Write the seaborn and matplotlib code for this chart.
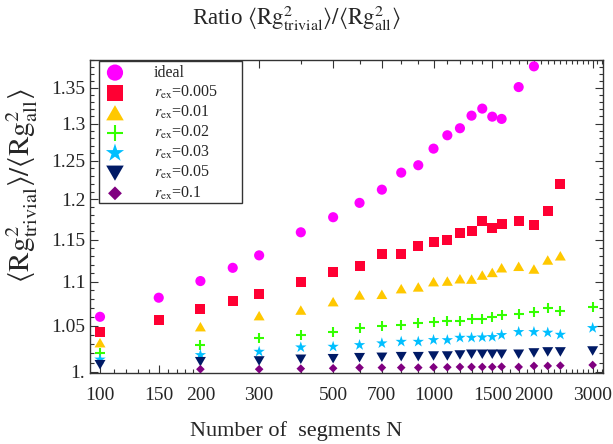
import matplotlib
matplotlib.use("Agg")
import matplotlib.pyplot as plt
import seaborn as sns
import pandas as pd
from matplotlib.path import Path
from matplotlib.patches import Rectangle
from matplotlib.ticker import NullFormatter

# ---- data -------------------------------------------------------------
N_ideal = [100, 150, 200, 250, 300, 400, 500, 600, 700, 800, 900, 1000,
           1100, 1200, 1300, 1400, 1500, 1600, 1800, 2000]
ratio_ideal = [1.0600, 1.0816, 1.1008, 1.1163, 1.1311, 1.1590, 1.1776, 1.1956,
               1.2124, 1.2344, 1.2441, 1.2661, 1.2841, 1.2937, 1.3110, 1.3208,
               1.3096, 1.3065, 1.3512, 1.3811]

N_r0005 = [100, 150, 200, 250, 300, 400, 500, 600, 700, 800, 900, 1000,
           1100, 1200, 1300, 1400, 1500, 1600, 1800, 2000, 2200, 2400]
ratio_r0005 = [1.0435, 1.0568, 1.0691, 1.0782, 1.0862, 1.0994, 1.1118, 1.1184,
               1.1323, 1.1330, 1.1427, 1.1475, 1.1496, 1.1586, 1.1606, 1.1733,
               1.1647, 1.1696, 1.1726, 1.1684, 1.1858, 1.2202]

N_r001 = [100, 200, 300, 400, 500, 600, 700, 800, 900, 1000,
          1100, 1200, 1300, 1400, 1500, 1600, 1800, 2000, 2200, 2400]
ratio_r001 = [1.0314, 1.0490, 1.0613, 1.0676, 1.0771, 1.0848, 1.0855, 1.0920,
              1.0940, 1.1001, 1.1008, 1.1035, 1.1031, 1.1078, 1.1109, 1.1164,
              1.1181, 1.1149, 1.1256, 1.1306]

N_long = [100, 200, 300, 400, 500, 600, 700, 800, 900, 1000,
          1100, 1200, 1300, 1400, 1500, 1600, 1800, 2000, 2200, 2400, 3000]
ratio_r002 = [1.0200, 1.0289, 1.0366, 1.0402, 1.0435, 1.0479, 1.0498, 1.0506,
              1.0528, 1.0546, 1.0553, 1.0553, 1.0576, 1.0576, 1.0601, 1.0620,
              1.0632, 1.0658, 1.0699, 1.0665, 1.0711]
ratio_r003 = [1.0133, 1.0181, 1.0217, 1.0264, 1.0271, 1.0289, 1.0308, 1.0325,
              1.0325, 1.0344, 1.0343, 1.0369, 1.0369, 1.0373, 1.0377, 1.0399,
              1.0432, 1.0432, 1.0425, 1.0402, 1.0476]
ratio_r005 = [1.0077, 1.0109, 1.0117, 1.0135, 1.0141, 1.0152, 1.0156, 1.0163,
              1.0163, 1.0170, 1.0170, 1.0181, 1.0189, 1.0189, 1.0189, 1.0189,
              1.0189, 1.0203, 1.0214, 1.0214, 1.0224]

N_r01 = [200, 300, 400, 500, 600, 700, 800, 900, 1000,
         1100, 1200, 1300, 1400, 1500, 1600, 1800, 2000, 2200, 2400, 3000]
ratio_r01 = [1.0029, 1.0029, 1.0035, 1.0039, 1.0046, 1.0046, 1.0046, 1.0046,
             1.0050, 1.0050, 1.0053, 1.0053, 1.0053, 1.0053, 1.0056, 1.0053,
             1.0064, 1.0064, 1.0067, 1.0074]

series_labels = ["ideal", r"$r_{\mathrm{ex}}$=0.005", r"$r_{\mathrm{ex}}$=0.01",
                 r"$r_{\mathrm{ex}}$=0.02", r"$r_{\mathrm{ex}}$=0.03",
                 r"$r_{\mathrm{ex}}$=0.05", r"$r_{\mathrm{ex}}$=0.1"]

x_ticks = [100, 150, 200, 300, 500, 700, 1000, 1500, 2000, 3000]
x_tick_labels = ["100", "150", "200", "300", "500", "700", "1000", "1500", "2000", "3000"]
y_ticks = [1.0, 1.05, 1.1, 1.15, 1.2, 1.25, 1.3, 1.35]
y_tick_labels = ["1.", "1.05", "1.1", "1.15", "1.2", "1.25", "1.3", "1.35"]

# ---- marker shapes ----------------------------------------------------
tri_up = Path([(-1, -0.866), (1, -0.866), (0, 0.866), (-1, -0.866)],
              [Path.MOVETO, Path.LINETO, Path.LINETO, Path.CLOSEPOLY])
tri_down = Path([(-1, 0.866), (1, 0.866), (0, -0.866), (-1, 0.866)],
                [Path.MOVETO, Path.LINETO, Path.LINETO, Path.CLOSEPOLY])

styles = [
    dict(marker="o", color="#ff00ff", size=7.3),
    dict(marker="s", color="#ff0033", size=7.2),
    dict(marker=tri_up, color="#ffc800", size=7.9),
    dict(marker="+", color="#33ff00", size=7.6),
    dict(marker="*", color="#00bfff", size=8.6),
    dict(marker=tri_down, color="#001a66", size=7.9),
    dict(marker="D", color="#800080", size=4.4),
]

series = [
    (N_ideal, ratio_ideal),
    (N_r0005, ratio_r0005),
    (N_r001, ratio_r001),
    (N_long, ratio_r002),
    (N_long, ratio_r003),
    (N_long, ratio_r005),
    (N_r01, ratio_r01),
]

# ---- figure -----------------------------------------------------------
sns.set_theme(style="ticks")
plt.rcParams["font.family"] = ["Liberation Serif", "DejaVu Serif"]
plt.rcParams["mathtext.fontset"] = "stix"

fig = plt.figure(figsize=(6.13, 4.44), dpi=100)
ax = fig.add_axes([89.5 / 613, 1 - 373 / 444, 513.5 / 613, 313 / 444])

for (xs, ys), label, st in zip(series, series_labels, styles):
    df = pd.DataFrame({"N": xs, "ratio": ys})
    kw = dict(marker=st["marker"], s=st["size"] ** 2, color=st["color"],
              label=label, ax=ax, zorder=3)
    if st["marker"] == "+":
        kw["linewidth"] = 1.5
    else:
        kw["edgecolor"] = "none"
    sns.scatterplot(data=df, x="N", y="ratio", **kw)

ax.set_xscale("log")
ax.set_yscale("log")
ax.set_xlim(93.0, 3222)
ax.set_ylim(0.9989, 1.3904)

x_minor = [v for v in list(range(110, 200, 10)) + list(range(200, 3300, 100))
           if v not in x_ticks]
y_minor = [round(1 + 0.01 * i, 2) for i in range(0, 40)]
y_minor = [v for v in y_minor if all(abs(v - t) > 1e-6 for t in y_ticks)]

ax.set_xticks(x_ticks, labels=x_tick_labels)
ax.set_xticks(x_minor, minor=True)
ax.set_yticks(y_ticks, labels=y_tick_labels)
ax.set_yticks(y_minor, minor=True)
ax.xaxis.set_minor_formatter(NullFormatter())
ax.yaxis.set_minor_formatter(NullFormatter())

ax.tick_params(which="both", direction="in", top=True, right=True,
               color="#333333", width=0.8)
ax.tick_params(which="major", length=6, labelsize=14)
ax.tick_params(axis="x", which="major", pad=10)
ax.tick_params(axis="y", which="major", pad=3)
ax.tick_params(which="minor", length=3)
for sp in ax.spines.values():
    sp.set_color("#333333")
    sp.set_linewidth(1.0)

ax.set_xlabel("Number of  segments N", fontsize=16)
ax.xaxis.set_label_coords(0.402, -0.155)
ax.set_ylabel(r"$\langle\mathrm{Rg}^2_{\mathrm{trivial}}\rangle/\langle\mathrm{Rg}^2_{\mathrm{all}}\rangle$",
              fontsize=21)
ax.yaxis.set_label_coords(-0.097, 0.6)
ax.set_title(r"Ratio $\langle\mathrm{Rg}^2_{\mathrm{trivial}}\rangle/\langle\mathrm{Rg}^2_{\mathrm{all}}\rangle$",
             fontsize=16.5, x=0.402, pad=25)

# legend box, drawn as its own frame so it can be wider than the entries
ax.add_patch(Rectangle(((99 - 89.5) / 513.5, (373 - 203) / 313),
                       143 / 513.5, (203 - 60.7) / 313, transform=ax.transAxes,
                       facecolor="white", edgecolor="#333333", linewidth=1.0,
                       zorder=4))
leg = ax.legend(loc="upper left", bbox_to_anchor=(0.0185, 1.0), borderaxespad=0,
                fontsize=11.5, markerscale=1.6, frameon=False,
                handletextpad=1.75, labelspacing=0.19, borderpad=0.3,
                handlelength=1.4)
leg.set_zorder(5)

fig.savefig("out.png", dpi=100)
